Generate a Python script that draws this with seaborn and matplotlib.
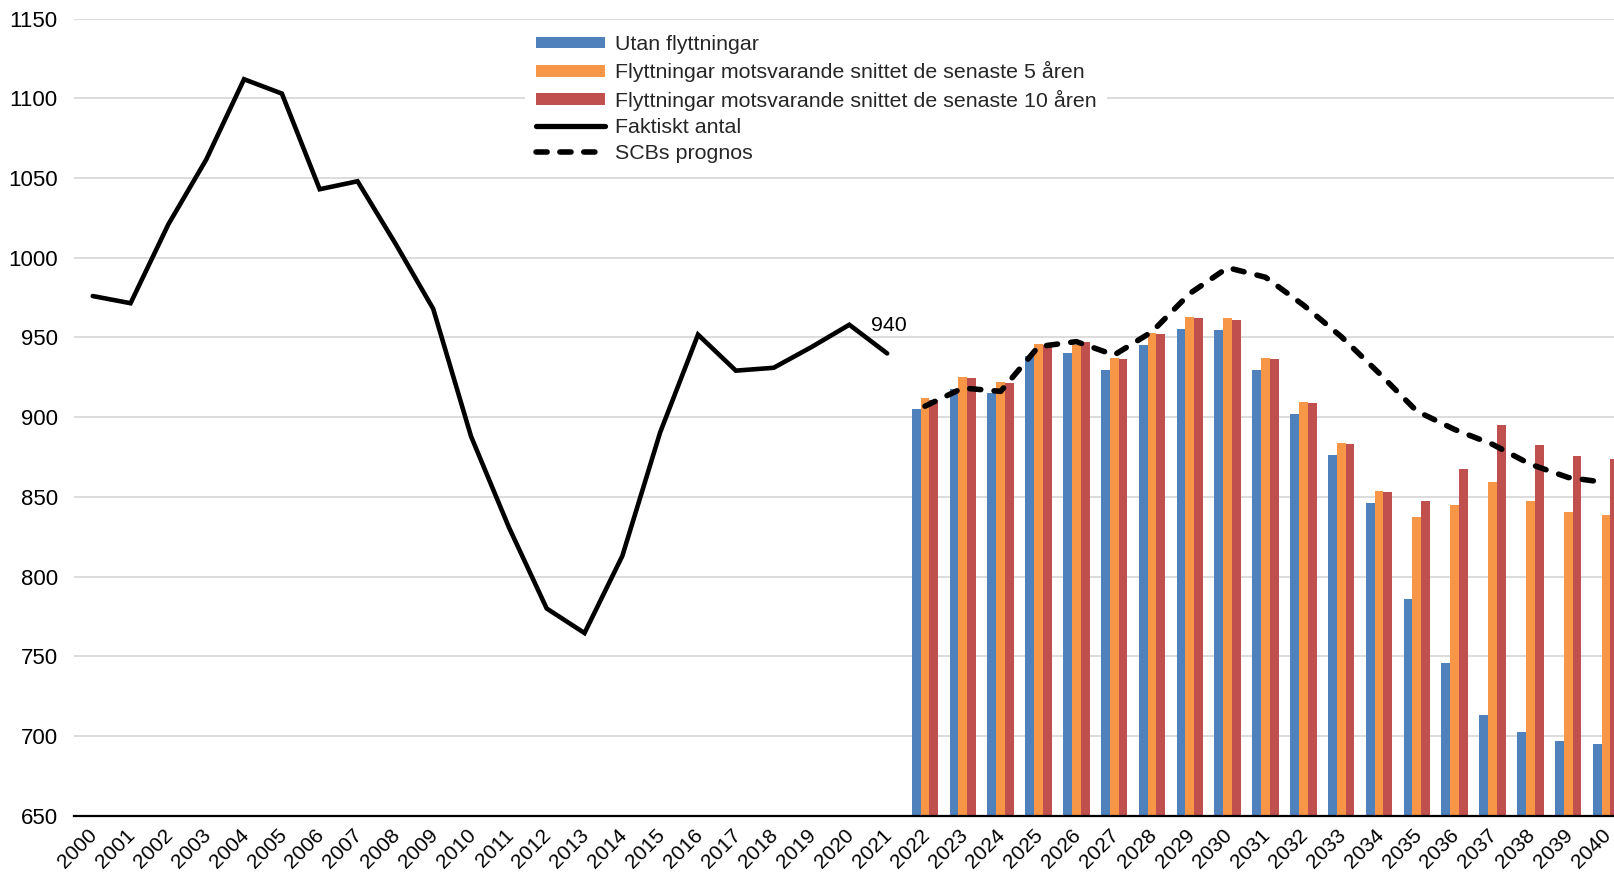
import numpy as np
import pandas as pd
import matplotlib
matplotlib.use("Agg")
import matplotlib.pyplot as plt
from matplotlib.patches import Patch
from matplotlib.lines import Line2D
import matplotlib.transforms as mtransforms
import seaborn as sns

# ---------------- data ----------------
years = list(range(2000, 2041))
actual_years = list(range(2000, 2022))
actual = [976, 971.5, 1021, 1061.6, 1112, 1103, 1043, 1048, 1009, 968,
          888, 831, 780, 764.6, 813, 890.5, 951.8, 929.2, 931, 944, 958, 940]

proj_years = list(range(2022, 2041))
utan = [905, 917.7, 915, 938.5, 940.5, 929.7, 945.3, 955.3, 954.5, 929.3,
        902, 876.3, 846.2, 786, 746, 713.4, 702.8, 696.7, 695.3]
snitt5 = [912.3, 925.4, 922.3, 946, 945, 937.2, 952.6, 962.8, 962, 937,
          909.8, 883.9, 853.9, 837.4, 845, 859.4, 847.2, 840.5, 838.6]
snitt10 = [911, 924.5, 921.4, 945.3, 947.2, 936.4, 952, 962.2, 961.1, 936.2,
           909.2, 883.2, 853.1, 847.7, 867.8, 894.8, 882.8, 875.7, 874]
scb = [906.9, 918.3, 916.2, 944.3, 947.4, 939, 953.6, 977.6, 993.8, 987.8,
       970.4, 950.6, 927.7, 903.8, 892.3, 883, 870.5, 862.2, 859]

series_names = ["Utan flyttningar",
                "Flyttningar motsvarande snittet de senaste 5 åren",
                "Flyttningar motsvarande snittet de senaste 10 åren"]
line_names = ["Faktiskt antal", "SCBs prognos"]
colors = ["#4F81BD", "#F79646", "#C0504D"]

# ---------------- figure ----------------
sns.set_theme(style="white")
plt.rcParams['font.family'] = ['Liberation Sans', 'DejaVu Sans']
FS_LEG = 15.4
FS_Y = 16
FS_X = 15

fig = plt.figure(figsize=(16.15, 8.76), dpi=100)
ax = fig.add_axes([0.0457, 0.0688, 0.9604, 0.9099])

bars_df = pd.DataFrame({
    "year": [str(y) for y in proj_years] * 3,
    "value": utan + snitt5 + snitt10,
    "serie": sum([[n] * len(proj_years) for n in series_names], []),
})
order = [str(y) for y in years]
sns.barplot(data=bars_df, x="year", y="value", hue="serie", order=order,
            hue_order=series_names, palette=colors, width=0.70, gap=0,
            linewidth=0, ax=ax, legend=False, saturation=1)

pos = {str(y): i for i, y in enumerate(years)}
act_df = pd.DataFrame({"x": [pos[str(y)] for y in actual_years], "v": actual})
scb_df = pd.DataFrame({"x": [pos[str(y)] for y in proj_years], "v": scb})

sns.lineplot(data=act_df, x="x", y="v", color="black", lw=3.3, ax=ax,
             solid_capstyle="round", solid_joinstyle="miter")
sns.lineplot(data=scb_df, x="x", y="v", color="black", lw=4.0, ax=ax,
             dashes=False)
scb_line = ax.get_lines()[-1]
scb_line.set_dashes((2.0, 2.4))
scb_line.set_dash_capstyle("round")

ax.annotate("940", xy=(pos["2021"], actual[-1]), xytext=(2, 28),
            textcoords="offset pixels", ha="center", va="center",
            fontsize=FS_LEG, color="black")

ax.set_ylim(650, 1150)
ax.set_xlim(-0.5, len(years) - 0.5)
ax.set_yticks(np.arange(650, 1151, 50))
ax.yaxis.grid(True, color="#D9D9D9", lw=1.3)
ax.set_axisbelow(True)
for s in ["top", "right", "left"]:
    ax.spines[s].set_visible(False)
ax.spines["bottom"].set_color("black")
ax.spines["bottom"].set_linewidth(1.6)
ax.set_xlabel("")
ax.set_ylabel("")
ax.set_xticks(range(len(years)))
ax.set_xticklabels(order, rotation=45, ha="right", rotation_mode="anchor")
ax.tick_params(axis="x", length=0, pad=7, labelsize=FS_X, colors="black")
ax.tick_params(axis="y", length=0, pad=11.5, labelsize=FS_Y, colors="black")
shift = mtransforms.ScaledTranslation(-5 / 100, 0, fig.dpi_scale_trans)
for lbl in ax.get_xticklabels():
    lbl.set_transform(lbl.get_transform() + shift)

handles = [Patch(facecolor=c, edgecolor="none") for c in colors]
handles += [Line2D([], [], color="black", lw=3.8, solid_capstyle="round"),
            Line2D([], [], color="black", lw=4.0, dashes=(2.0, 2.3),
                   dash_capstyle="round")]
leg = ax.legend(handles, series_names + line_names, loc="upper left",
                bbox_to_anchor=(0.284, 1.006), fontsize=FS_LEG, frameon=True,
                facecolor="white", edgecolor="none", framealpha=1,
                handlelength=3.25, handleheight=0.45, handletextpad=0.45,
                labelspacing=0.33, borderpad=0.5, fancybox=False)

fig.savefig("out.png", dpi=100)
